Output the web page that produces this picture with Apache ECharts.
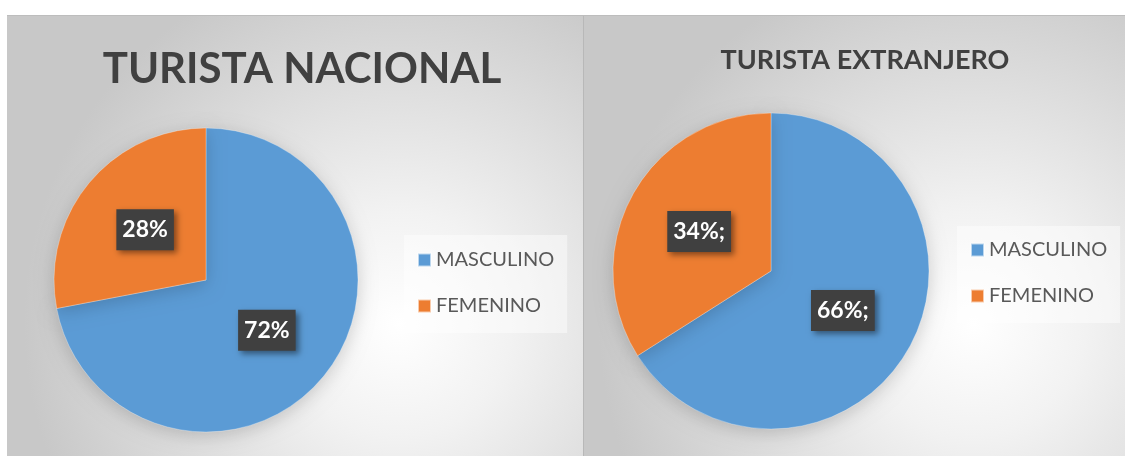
<!DOCTYPE html>
<html>
<head>
<meta charset="utf-8">
<script src="https://cdn.jsdelivr.net/npm/echarts@6/dist/echarts.min.js"></script>
<style>
html,body{margin:0;padding:0;background:#ffffff;}
#c{width:1125px;height:456px;}
</style>
</head>
<body>
<div id="c"></div>
<script>
const categories = ['MASCULINO', 'FEMENINO'];
const nacionalValues = [72, 28];
const extranjeroValues = [66, 34];
const nacionalLabels = ['72%', '28%'];
const extranjeroLabels = ['66%;', '34%;'];
const titles = ['TURISTA NACIONAL', 'TURISTA EXTRANJERO'];
const colors = ['#5B9BD5', '#ED7D31'];

const chart = echarts.init(document.getElementById('c'), null, {renderer: 'canvas'});

function bg(x, y, w, h, cx, cy) {
  return {
    type: 'rect', z: -10, silent: true,
    shape: {x: x, y: y, width: w, height: h},
    style: {
      fill: new echarts.graphic.RadialGradient(cx, cy, 0.85, [
        {offset: 0, color: '#ffffff'},
        {offset: 0.3, color: '#f2f2f2'},
        {offset: 1, color: '#c8c8c8'}
      ])
    }
  };
}

function labelCfg(texts) {
  return {
    show: true,
    position: 'inside',
    formatter: function (p) { return texts[p.dataIndex]; },
    color: '#ffffff',
    fontFamily: 'Lato',
    fontWeight: 'bold',
    fontSize: 23,
    lineHeight: 25,
    backgroundColor: '#404040',
    padding: [8, 6, 8, 6],
    shadowColor: 'rgba(0,0,0,0.45)',
    shadowBlur: 6,
    shadowOffsetX: 3,
    shadowOffsetY: 3
  };
}

function makeData(values) {
  return categories.map((c, i) => ({name: c, value: values[i]}));
}

const legendBase = {
  orient: 'vertical',
  icon: 'rect',
  itemWidth: 13,
  itemHeight: 13,
  itemGap: 26,
  backgroundColor: 'rgba(255,255,255,0.45)',
  textStyle: {fontFamily: 'Lato', fontSize: 20, color: '#595959', padding: [0, 0, 0, 0]},
  data: categories,
  selectedMode: false
};

chart.setOption({
  animation: false,
  color: colors,
  graphic: [
    bg(7, 15, 576, 441, 0.68, 0.7),
    bg(584, 15, 541, 441, 0.72, 0.7),
    {type: 'rect', z: -9, silent: true, shape: {x: 583, y: 15, width: 1, height: 441}, style: {fill: '#b8b8b8'}},
    {type: 'rect', z: -9, silent: true, shape: {x: 7, y: 15, width: 1118, height: 1}, style: {fill: '#bdbdbd'}}
  ],
  title: [
    {text: titles[0], left: 297, top: 43, textAlign: 'center',
     textStyle: {fontFamily: 'Lato', fontWeight: 'bold', fontSize: 42, color: '#404040'}},
    {text: titles[1], left: 860, top: 42, textAlign: 'center',
     textStyle: {fontFamily: 'Lato', fontWeight: 'bold', fontSize: 27, color: '#404040'}}
  ],
  legend: [
    Object.assign({}, legendBase, {left: 404, top: 235, padding: [15, 13, 17, 13]}),
    Object.assign({}, legendBase, {left: 957, top: 226, padding: [14, 13, 17, 13]})
  ],
  series: [
    {
      type: 'pie', name: titles[0],
      center: [206, 280], radius: 152,
      startAngle: 90, clockwise: true,
      data: makeData(nacionalValues),
      label: labelCfg(nacionalLabels),
      labelLine: {show: false},
      itemStyle: {borderColor: 'rgba(255,255,255,0.6)', borderWidth: 0.5,
                  shadowColor: 'rgba(0,0,0,0.18)', shadowBlur: 18, shadowOffsetY: 4},
      emphasis: {disabled: true}
    },
    {
      type: 'pie', name: titles[1],
      center: [771, 271], radius: 158,
      startAngle: 90, clockwise: true,
      data: makeData(extranjeroValues),
      label: labelCfg(extranjeroLabels),
      labelLine: {show: false},
      itemStyle: {borderColor: 'rgba(255,255,255,0.6)', borderWidth: 0.5,
                  shadowColor: 'rgba(0,0,0,0.18)', shadowBlur: 18, shadowOffsetY: 4},
      emphasis: {disabled: true}
    }
  ]
});
</script>
</body>
</html>
